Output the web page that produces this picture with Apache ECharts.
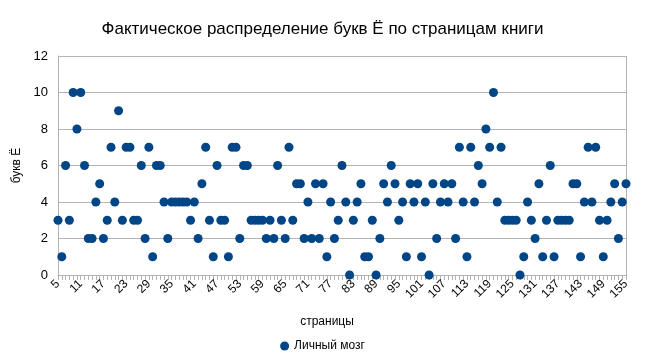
<!DOCTYPE html>
<html>
<head>
<meta charset="utf-8">
<script src="https://cdn.jsdelivr.net/npm/echarts@6/dist/echarts.min.js"></script>
<style>
html,body{margin:0;padding:0;background:#fff;}
#c{width:645px;height:358px;}
</style>
</head>
<body>
<div id="c"></div>
<script>
const pages = [];
for (let p = 5; p <= 155; p++) pages.push(String(p));
const values = [
  3,1,6,3,10,8,10,6,2,2,
  4,5,2,3,7,4,9,3,7,7,
  3,3,6,2,7,1,6,6,4,2,
  4,4,4,4,4,3,4,2,5,7,
  3,1,6,3,3,1,7,7,2,6,
  6,3,3,3,3,2,3,2,6,3,
  2,7,3,5,5,2,4,2,5,2,
  5,1,4,2,3,6,4,0,3,4,
  5,1,1,3,0,2,5,4,6,5,
  3,4,1,5,4,5,1,4,0,5,
  2,4,5,4,5,2,7,4,1,7,
  4,6,5,8,7,10,4,7,3,3,
  3,3,0,1,4,3,2,5,1,3,
  6,1,3,3,3,3,5,5,1,4,
  7,4,7,3,1,3,4,5,2,4,
  5
];
const seriesName = 'Личный мозг';
const titleText = 'Фактическое распределение букв Ё по страницам книги';
const xName = 'страницы';
const yName = 'букв Ё';

const chart = echarts.init(document.getElementById('c'));
const font = 'Liberation Sans';
chart.setOption({
  animation: false,
  textStyle: { fontFamily: font },
  title: {
    text: titleText,
    left: 'center',
    top: 16,
    textStyle: { fontFamily: font, fontSize: 17, fontWeight: 'normal', color: '#000' }
  },
  legend: {
    data: [seriesName],
    bottom: 1,
    left: 'center',
    icon: 'circle',
    itemWidth: 9,
    itemHeight: 9,
    itemGap: 4,
    textStyle: { fontFamily: font, fontSize: 12, color: '#000' }
  },
  grid: { left: 58, right: 19, top: 56, bottom: 83 },
  xAxis: {
    type: 'category',
    data: pages,
    boundaryGap: false,
    name: xName,
    nameLocation: 'middle',
    nameGap: 41,
    nameTextStyle: { fontFamily: font, fontSize: 12, color: '#000', padding: [0, 30, 0, 0] },
    axisLine: { lineStyle: { color: '#b3b3b3' } },
    axisTick: { show: true, interval: 0, length: 5, lineStyle: { color: '#b3b3b3' } },
    axisLabel: { interval: 5, rotate: 45, fontSize: 12, color: '#000', margin: 7 },
    splitLine: { show: false }
  },
  yAxis: {
    type: 'value',
    min: 0,
    max: 12,
    interval: 2,
    name: yName,
    nameLocation: 'middle',
    nameGap: 34,
    nameTextStyle: { fontFamily: font, fontSize: 12, color: '#000' },
    axisLine: { show: true, lineStyle: { color: '#b3b3b3' } },
    axisTick: { show: false },
    axisLabel: { fontSize: 13, color: '#000', margin: 10 },
    splitLine: { lineStyle: { color: '#b3b3b3' } }
  },
  series: [{
    name: seriesName,
    type: 'scatter',
    data: values,
    symbol: 'circle',
    symbolSize: 9,
    itemStyle: { color: '#004586', opacity: 1 }
  }],
  graphic: [{
    type: 'line',
    shape: { x1: 626.5, y1: 56, x2: 626.5, y2: 275 },
    style: { stroke: '#b3b3b3', lineWidth: 1 }
  }]
});
</script>
</body>
</html>
